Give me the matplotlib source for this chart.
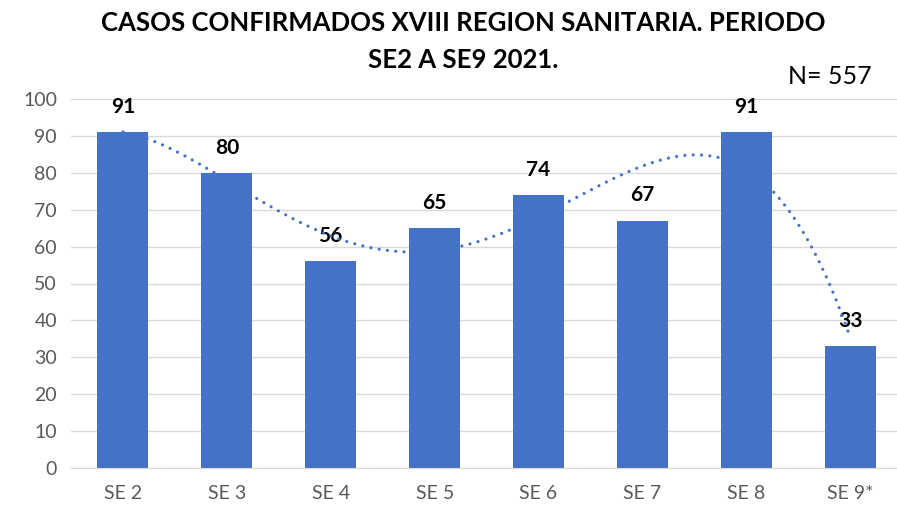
import numpy as np
import matplotlib.pyplot as plt

# weekly confirmed cases
semanas = ["SE 2", "SE 3", "SE 4", "SE 5", "SE 6", "SE 7", "SE 8", "SE 9*"]
casos = [91, 80, 56, 65, 74, 67, 91, 33]
total_n = 557

azul = "#4472C4"
gris = "#595959"
plt.rcParams['font.family'] = ['Lato', 'DejaVu Sans']

fig = plt.figure(figsize=(8.97, 5.09), dpi=100)
ax = fig.add_axes([71 / 897, 41 / 509, 826 / 897, 369 / 509])

x = np.arange(len(casos))
ax.bar(x, casos, width=0.49, color=azul, zorder=2)

# polynomial trend line (order 4), like the spreadsheet one
coef = np.polyfit(x, casos, 4)
xs = np.linspace(0, len(casos) - 1, 300)
ax.plot(xs, np.polyval(coef, xs), color=azul, lw=2.3,
        linestyle=(0, (0.01, 2.6)), dash_capstyle='round', zorder=1.5)

for xi, v in zip(x, casos):
    ax.annotate(str(v), (xi, v), xytext=(0, 11), textcoords='offset points',
                ha='center', va='bottom', fontsize=15, fontweight='bold',
                color='black', zorder=1.4)

ax.set_ylim(0, 100)
ax.set_yticks(range(0, 101, 10))
ax.set_xlim(-0.5, 7.45)
ax.set_xticks(x)
ax.set_xticklabels(semanas)
ax.tick_params(axis='both', length=0, labelsize=14, colors=gris)
ax.tick_params(axis='x', pad=12)
ax.tick_params(axis='y', pad=10)
ax.grid(axis='y', color='#D9D9D9', lw=1, zorder=0)
ax.set_axisbelow(True)
for s in ['top', 'right', 'left']:
    ax.spines[s].set_visible(False)
ax.spines['bottom'].set_color('#D9D9D9')

# title in two separate lines
fig.text(0.516, 0.955, "CASOS CONFIRMADOS XVIII REGION SANITARIA. PERIODO",
         ha='center', va='center', fontsize=18.5, fontweight='bold')
fig.text(0.516, 0.882, "SE2 A SE9 2021.",
         ha='center', va='center', fontsize=18.5, fontweight='bold')
fig.text(0.878, 0.85, f"N= {total_n}", ha='left', va='center', fontsize=18)

fig.savefig("out.png", dpi=100)
